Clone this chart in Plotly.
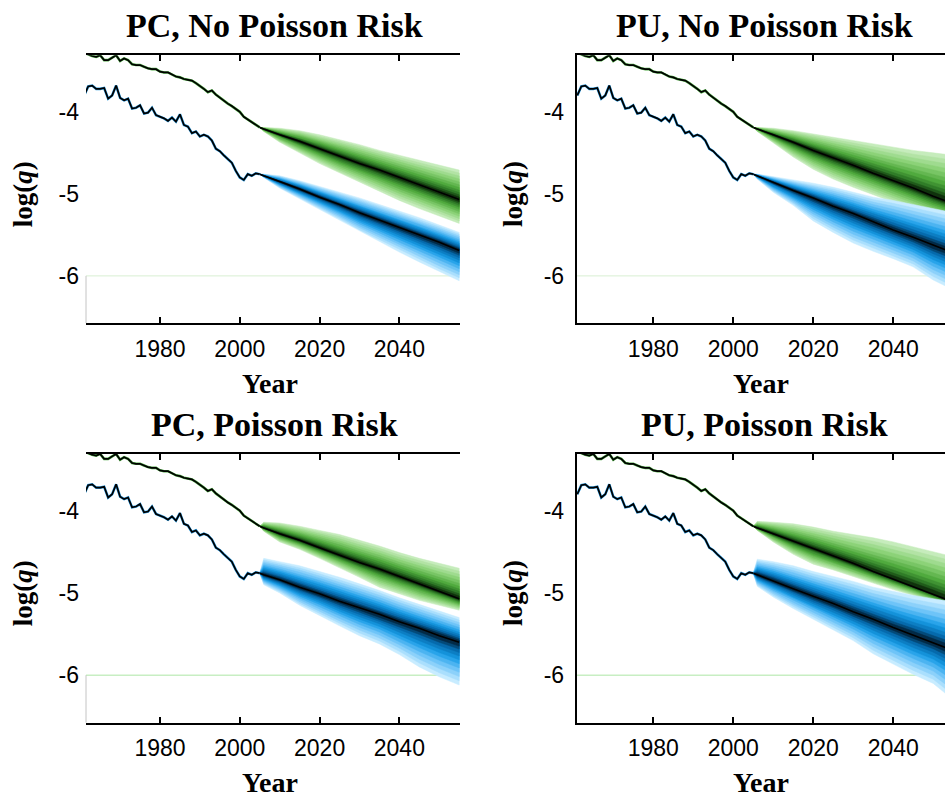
import plotly.graph_objects as go

W, H = 945, 798

# ---------------- data ----------------
years_hist = list(range(1961, 2006))
hist_upper = [-3.28, -3.30, -3.32, -3.33, -3.31, -3.37, -3.37, -3.34, -3.31, -3.38,
              -3.35, -3.37, -3.42, -3.43, -3.43, -3.45, -3.47, -3.48, -3.48, -3.51,
              -3.52, -3.52, -3.55, -3.57, -3.58, -3.60, -3.61, -3.62, -3.65, -3.68,
              -3.72, -3.76, -3.74, -3.79, -3.83, -3.86, -3.90, -3.93, -3.96, -4.00,
              -4.06, -4.09, -4.12, -4.16, -4.19]
hist_lower = [-3.80, -3.69, -3.68, -3.72, -3.72, -3.71, -3.84, -3.80, -3.68, -3.83,
              -3.86, -3.84, -3.96, -3.95, -3.92, -4.02, -4.01, -3.95, -4.04, -4.06,
              -4.08, -4.11, -4.07, -4.12, -4.03, -4.16, -4.18, -4.26, -4.24, -4.30,
              -4.28, -4.30, -4.35, -4.45, -4.48, -4.53, -4.58, -4.62, -4.72, -4.80,
              -4.83, -4.76, -4.78, -4.75, -4.76]

proj_years = [2005, 2006, 2010, 2015, 2020, 2025, 2030, 2035, 2040, 2045, 2050, 2055]

# PC, No Poisson Risk
pc_np_green_med = [-4.19, -4.21, -4.28, -4.36, -4.45, -4.54, -4.63, -4.71, -4.80, -4.89, -4.98, -5.07]
pc_np_green_hi  = [-4.19, -4.19, -4.20, -4.23, -4.28, -4.34, -4.40, -4.47, -4.53, -4.59, -4.65, -4.71]
pc_np_green_lo  = [-4.19, -4.24, -4.37, -4.50, -4.63, -4.75, -4.86, -4.97, -5.08, -5.18, -5.27, -5.36]
pc_np_blue_med  = [-4.76, -4.78, -4.85, -4.94, -5.04, -5.13, -5.23, -5.32, -5.41, -5.50, -5.59, -5.69]
pc_np_blue_hi   = [-4.76, -4.76, -4.78, -4.84, -4.91, -4.98, -5.05, -5.13, -5.21, -5.29, -5.38, -5.47]
pc_np_blue_lo   = [-4.76, -4.80, -4.93, -5.06, -5.19, -5.32, -5.46, -5.58, -5.71, -5.83, -5.95, -6.06]

# PU, No Poisson Risk
pu_np_green_med = [-4.19, -4.21, -4.28, -4.37, -4.47, -4.56, -4.65, -4.75, -4.84, -4.93, -5.03, -5.12]
pu_np_green_hi  = [-4.19, -4.19, -4.20, -4.23, -4.27, -4.31, -4.35, -4.39, -4.43, -4.47, -4.50, -4.53]
pu_np_green_lo  = [-4.19, -4.24, -4.38, -4.55, -4.70, -4.82, -4.92, -5.01, -5.10, -5.19, -5.28, -5.36]
pu_np_blue_med  = [-4.76, -4.78, -4.86, -4.96, -5.05, -5.15, -5.24, -5.34, -5.44, -5.53, -5.63, -5.72]
pu_np_blue_hi   = [-4.76, -4.76, -4.79, -4.83, -4.87, -4.92, -4.98, -5.04, -5.08, -5.13, -5.18, -5.23]
pu_np_blue_lo   = [-4.76, -4.82, -4.98, -5.14, -5.33, -5.47, -5.60, -5.70, -5.79, -5.89, -6.05, -6.17]

# PC, Poisson Risk
pc_p_green_med = [-4.19, -4.21, -4.28, -4.36, -4.45, -4.54, -4.63, -4.71, -4.80, -4.89, -4.98, -5.07]
pc_p_green_hi  = [-4.19, -4.14, -4.15, -4.19, -4.24, -4.29, -4.36, -4.43, -4.51, -4.58, -4.64, -4.70]
pc_p_green_lo  = [-4.19, -4.25, -4.38, -4.47, -4.58, -4.69, -4.81, -4.93, -5.01, -5.09, -5.15, -5.21]
pc_p_blue_med  = [-4.76, -4.78, -4.84, -4.93, -5.01, -5.10, -5.18, -5.26, -5.35, -5.43, -5.52, -5.60]
pc_p_blue_hi   = [-4.76, -4.58, -4.62, -4.67, -4.74, -4.81, -4.89, -4.97, -5.06, -5.14, -5.22, -5.30]
pc_p_blue_lo   = [-4.76, -4.90, -5.00, -5.15, -5.27, -5.40, -5.52, -5.62, -5.75, -5.90, -6.02, -6.12]

# PU, Poisson Risk
pu_p_green_med = [-4.19, -4.21, -4.28, -4.37, -4.46, -4.55, -4.64, -4.74, -4.83, -4.92, -5.01, -5.11]
pu_p_green_hi  = [-4.19, -4.13, -4.14, -4.16, -4.20, -4.25, -4.29, -4.33, -4.38, -4.44, -4.50, -4.56]
pu_p_green_lo  = [-4.19, -4.24, -4.38, -4.53, -4.65, -4.72, -4.80, -4.88, -4.96, -5.03, -5.12, -5.22]
pu_p_blue_med  = [-4.76, -4.78, -4.85, -4.95, -5.04, -5.13, -5.23, -5.32, -5.42, -5.51, -5.60, -5.70]
pu_p_blue_hi   = [-4.76, -4.59, -4.62, -4.67, -4.74, -4.80, -4.86, -4.93, -4.98, -5.03, -5.07, -5.11]
pu_p_blue_lo   = [-4.76, -4.92, -5.05, -5.19, -5.33, -5.45, -5.58, -5.74, -5.86, -5.99, -6.10, -6.30]

panel_titles = ["PC, No Poisson Risk", "PU, No Poisson Risk", "PC, Poisson Risk", "PU, Poisson Risk"]
x_title = "Year"
y_title = "<b>log(<i>q</i>)</b>"
x_ticks = [1980, 2000, 2020, 2040]
y_ticks = [-6, -5, -4]
ref_level = -6.0

# fan shading: fraction of outer interval and colour stops (outer -> inner)
fan_levels = [1.0, 0.90, 0.80, 0.70, 0.60, 0.50, 0.41, 0.32, 0.24, 0.16, 0.09]
green_stops = [(0.0, (198, 236, 188)), (0.3, (140, 210, 120)), (0.6, (80, 170, 62)),
               (0.85, (40, 112, 34)), (1.0, (16, 50, 13))]
blue_stops = [(0.0, (200, 236, 255)), (0.3, (110, 196, 248)), (0.55, (24, 156, 230)),
              (0.8, (6, 106, 172)), (1.0, (3, 42, 70))]


def shade(stops, t):
    for (t0, c0), (t1, c1) in zip(stops[:-1], stops[1:]):
        if t <= t1:
            a = (t - t0) / (t1 - t0) if t1 > t0 else 0
            c = [round(c0[k] + a * (c1[k] - c0[k])) for k in range(3)]
            return f'rgb({c[0]},{c[1]},{c[2]})'
    c = stops[-1][1]
    return f'rgb({c[0]},{c[1]},{c[2]})'


n_lev = len(fan_levels)
green_shades = [shade(green_stops, k / (n_lev - 1)) for k in range(n_lev)]
blue_shades = [shade(blue_stops, k / (n_lev - 1)) for k in range(n_lev)]

# ---------------- layout geometry (pixels) ----------------
panels = [
    dict(x0=86, x1=460, y0=55.3, y1=323.3, xr=[1961.45, 2055.2], left=True,
         data=(pc_np_green_med, pc_np_green_hi, pc_np_green_lo, pc_np_blue_med, pc_np_blue_hi, pc_np_blue_lo),
         ref_color='#d8efd3'),
    dict(x0=576.7, x1=945, y0=55.3, y1=323.3, xr=[1960.85, 2052.95], left=False,
         data=(pu_np_green_med, pu_np_green_hi, pu_np_green_lo, pu_np_blue_med, pu_np_blue_hi, pu_np_blue_lo),
         ref_color='#d8efd3'),
    dict(x0=86, x1=460, y0=454, y1=722.7, xr=[1961.45, 2055.2], left=True,
         data=(pc_p_green_med, pc_p_green_hi, pc_p_green_lo, pc_p_blue_med, pc_p_blue_hi, pc_p_blue_lo),
         ref_color='#ace6a4'),
    dict(x0=576.7, x1=945, y0=454, y1=722.7, xr=[1960.85, 2052.95], left=False,
         data=(pu_p_green_med, pu_p_green_hi, pu_p_green_lo, pu_p_blue_med, pu_p_blue_hi, pu_p_blue_lo),
         ref_color='#ace6a4'),
]
y_range = [-6.578, -3.311]


def px(x):
    return x / W


def py(y):
    return 1 - y / H


fig = go.Figure()
layout = dict(width=W, height=H, margin=dict(l=0, r=0, t=0, b=0), autosize=False,
              plot_bgcolor='white', paper_bgcolor='white', showlegend=False)

tick_font = dict(family='Liberation Sans, Arial, sans-serif', size=23, color='black')
serif_bold = dict(family='Liberation Serif, Times New Roman, serif', color='black')

annotations = []
shapes = []
overlay_idx = 5

for i, p in enumerate(panels, start=1):
    xa = 'x' if i == 1 else f'x{i}'
    ya = 'y' if i == 1 else f'y{i}'
    gm, gh, gl, bm, bh, bl = p['data']

    # reference line at -6
    fig.add_trace(go.Scatter(x=[p['xr'][0], proj_years[-1]], y=[ref_level, ref_level], mode='lines',
                             line=dict(color=p['ref_color'], width=1), xaxis=xa, yaxis=ya, hoverinfo='skip'))

    for med, hi, lo, shades in ((gm, gh, gl, green_shades), (bm, bh, bl, blue_shades)):
        for f, col in zip(fan_levels, shades):
            up = [m + f * (h - m) for m, h in zip(med, hi)]
            dn = [m + f * (l - m) for m, l in zip(med, lo)]
            fig.add_trace(go.Scatter(x=proj_years + proj_years[::-1], y=up + dn[::-1],
                                     mode='lines', fill='toself', fillcolor=col,
                                     line=dict(width=0.5, color=col), xaxis=xa, yaxis=ya, hoverinfo='skip'))
        fig.add_trace(go.Scatter(x=proj_years, y=med, mode='lines', line=dict(color='black', width=1.6),
                                 xaxis=xa, yaxis=ya, hoverinfo='skip'))

    for hist, halo in ((hist_upper, '#4aa840'), (hist_lower, '#2a9ae0')):
        fig.add_trace(go.Scatter(x=years_hist, y=hist, mode='lines', line=dict(color=halo, width=2.6),
                                 xaxis=xa, yaxis=ya, hoverinfo='skip'))
        fig.add_trace(go.Scatter(x=years_hist, y=hist, mode='lines', line=dict(color='black', width=1.7),
                                 xaxis=xa, yaxis=ya, hoverinfo='skip'))

    xkey = 'xaxis' if i == 1 else f'xaxis{i}'
    ykey = 'yaxis' if i == 1 else f'yaxis{i}'
    layout[xkey] = dict(domain=[px(p['x0']), px(p['x1'])], anchor=ya, range=p['xr'],
                        tickvals=x_ticks, ticktext=[str(v) for v in x_ticks],
                        ticks='inside', ticklen=6, tickwidth=1.5, tickcolor='black',
                        showline=True, linewidth=2, linecolor='black', mirror='ticks',
                        showgrid=False, zeroline=False, tickfont=tick_font, ticklabelstandoff=4)
    layout[ykey] = dict(domain=[py(p['y1']), py(p['y0'])], anchor=xa, range=y_range,
                        tickvals=y_ticks, ticktext=[str(v) for v in y_ticks],
                        ticks='', showline=not p['left'], linewidth=2, linecolor='black',
                        showgrid=False, zeroline=False, tickfont=tick_font, ticklabelstandoff=6)
    if p['left']:
        layout[f'yaxis{overlay_idx}'] = dict(overlaying=ya, anchor=xa, side='right', range=y_range,
                                             tickvals=y_ticks, showticklabels=False,
                                             ticks='inside', ticklen=6, tickwidth=1.5, tickcolor='black',
                                             showline=True, linewidth=2, linecolor='black',
                                             showgrid=False, zeroline=False)
        overlay_idx += 1
        shapes.append(dict(type='line', xref=f'{xa} domain', yref=ya, x0=0, x1=0,
                           y0=ref_level, y1=y_range[0], line=dict(color='#c4c4c4', width=1)))

    cx = (p['x0'] + p['x0'] + 374) / 2
    annotations.append(dict(text=f"<b>{panel_titles[i-1]}</b>", x=px(cx + 1), y=py(p['y0'] - 30),
                            xref='paper', yref='paper', showarrow=False, xanchor='center', yanchor='middle',
                            font=dict(size=34, **serif_bold)))
    annotations.append(dict(text=f"<b>{x_title}</b>", x=px(cx - 3), y=py(p['y1'] + 60),
                            xref='paper', yref='paper', showarrow=False, xanchor='center', yanchor='middle',
                            font=dict(size=28, **serif_bold)))
    annotations.append(dict(text=y_title, x=px(p['x0'] - 63), y=py((p['y0'] + p['y1']) / 2 + 5),
                            xref='paper', yref='paper', showarrow=False, xanchor='center', yanchor='middle',
                            textangle=-90, font=dict(size=27, **serif_bold)))

layout['annotations'] = annotations
layout['shapes'] = shapes
fig.update_layout(**layout)

fig.write_html("out.html", config={'displayModeBar': False},
               post_script="document.body.style.margin='0';document.body.style.overflow='hidden';")
